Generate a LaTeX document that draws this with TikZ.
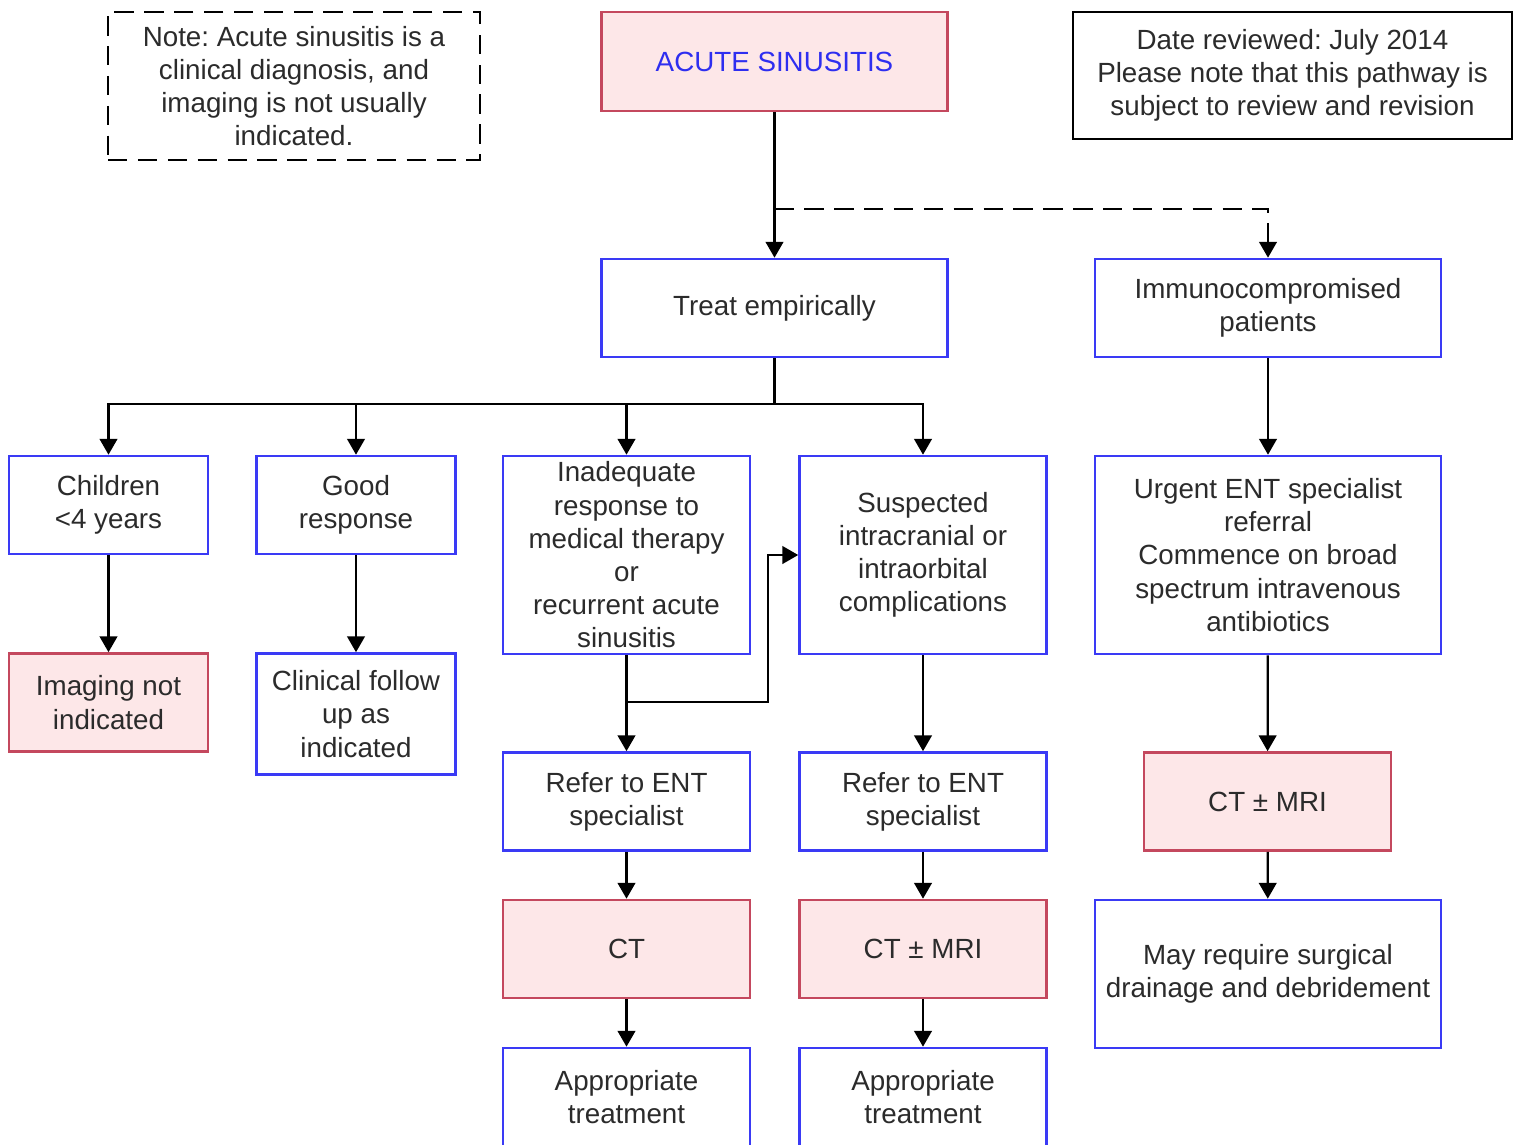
\documentclass[tikz,border=0pt]{standalone}
\usepackage{fontspec}
\setmainfont{Liberation Sans}
\usepackage{tikz}
\usetikzlibrary{arrows.meta}
\usetikzlibrary{positioning}
\definecolor{sp-text}{HTML}{2B2B2B}
\definecolor{sp-blue}{HTML}{3A3AF5}
\definecolor{sp-red}{HTML}{C4485E}
\definecolor{sp-pink}{HTML}{FDE7E8}
\definecolor{sp-title}{HTML}{2E2EF0}
\newcommand{\spfont}{\fontsize{15.8}{18.9}\selectfont\frenchspacing}

\begin{document}
\begin{tikzpicture}[
    x=0.02cm, y=-0.02cm,
    box/.style={draw=sp-blue, line width=1.5pt, fill=white, align=center, inner sep=1pt, text=sp-text, font=\spfont},
    pinkbox/.style={box, draw=sp-red, fill=sp-pink},
    wide/.style={minimum width=6.92cm, minimum height=1.96cm},
    mid/.style={minimum width=4.94cm, minimum height=1.96cm},
    small/.style={minimum width=3.98cm, minimum height=1.96cm},
    conn/.style={-{Triangle[width=10pt,length=9pt]}, line width=1.3pt, draw=black},
    link/.style={line width=1.3pt, draw=black},
    dashlink/.style={conn, dash pattern=on 11pt off 6pt}
]
\useasboundingbox (0,0) rectangle (1515,1144);

% =========================================================================
% TOPO: NOTA, TÍTULO E DATA
% =========================================================================
\node[box, draw=black, line width=1.3pt, dash pattern=on 11pt off 6pt, minimum width=7.44cm, minimum height=2.96cm] (note) at (294,86)
    {Note: Acute sinusitis is a\\clinical diagnosis, and\\imaging is not usually\\indicated.};
\node[pinkbox, wide, minimum height=1.98cm, text=sp-title] (acute) at (774.5,61.5) {ACUTE SINUSITIS};
\node[box, draw=black, line width=1.3pt, minimum width=8.78cm, minimum height=2.54cm] (date) at (1292.5,75.5)
    {Date reviewed: July 2014\\Please note that this pathway is\\subject to review and revision};

% =========================================================================
% SEGUNDO NÍVEL
% =========================================================================
\node[box, wide] (treat) at (774.5,308) {Treat empirically};
\node[box, wide] (immuno) at (1268,308) {Immunocompromised\\patients};

\coordinate (split) at (774.5,209);
\draw[conn] (acute) -- (treat);
\draw[dashlink] (split) -| (immuno.north);

% =========================================================================
% TERCEIRO NÍVEL
% =========================================================================
\node[box, small] (children) at (108.5,505) {Children\\<4 years};
\node[box, small] (good) at (356,505) {Good\\response};
\node[box, mid, minimum height=3.96cm] (inadequate) at (626.5,555)
    {Inadequate\\response to\\medical therapy\\or\\recurrent acute\\sinusitis};
\node[box, mid, minimum height=3.96cm] (suspected) at (923,555)
    {Suspected\\intracranial or\\intraorbital\\complications};
\node[box, wide, minimum height=3.96cm] (urgent) at (1268,555)
    {Urgent ENT specialist\\referral\\Commence on broad\\spectrum intravenous\\antibiotics};

\coordinate (bus) at (774.5,404);
\draw[link] (treat.south) -- (bus);
\draw[conn] (bus) -| (children.north);
\draw[conn] (bus) -| (good.north);
\draw[conn] (bus) -| (inadequate.north);
\draw[conn] (bus) -| (suspected.north);
\draw[conn] (immuno) -- (urgent);

% =========================================================================
% QUARTO NÍVEL
% =========================================================================
\node[pinkbox, small] (noimg) at (108.5,702.5) {Imaging not\\indicated};
\node[box, small, minimum height=2.42cm] (clinical) at (356,714) {Clinical follow\\up as\\indicated};
\node[box, mid] (refer1) at (626.5,801.5) {Refer to ENT\\specialist};
\node[box, mid] (refer2) at (923,801.5) {Refer to ENT\\specialist};
\node[pinkbox, mid] (ctmri1) at (1267.5,801.5) {CT ± MRI};

\draw[conn] (children) -- (noimg);
\draw[conn] (good) -- (clinical);
\draw[conn] (inadequate) -- (refer1);
\draw[conn] (suspected) -- (refer2);
\draw[conn] (urgent) -- (ctmri1);

% desvio para complicações
\coordinate (fork) at (626.5,702);
\coordinate (jog) at (768,702);
\draw[conn] (fork) -- (jog) |- (suspected.west);

% =========================================================================
% IMAGEM E TRATAMENTO
% =========================================================================
\node[pinkbox, mid] (ct) at (626.5,949) {CT};
\node[pinkbox, mid] (ctmri2) at (923,949) {CT ± MRI};
\node[box, wide, minimum height=2.96cm] (surgical) at (1268,974)
    {May require surgical\\drainage and debridement};

\draw[conn] (refer1) -- (ct);
\draw[conn] (refer2) -- (ctmri2);
\draw[conn] (ctmri1) -- (surgical);

\node[box, mid] (treat1) at (626.5,1097) {Appropriate\\treatment};
\node[box, mid] (treat2) at (923,1097) {Appropriate\\treatment};

\draw[conn] (ct) -- (treat1);
\draw[conn] (ctmri2) -- (treat2);

\end{tikzpicture}
\end{document}
